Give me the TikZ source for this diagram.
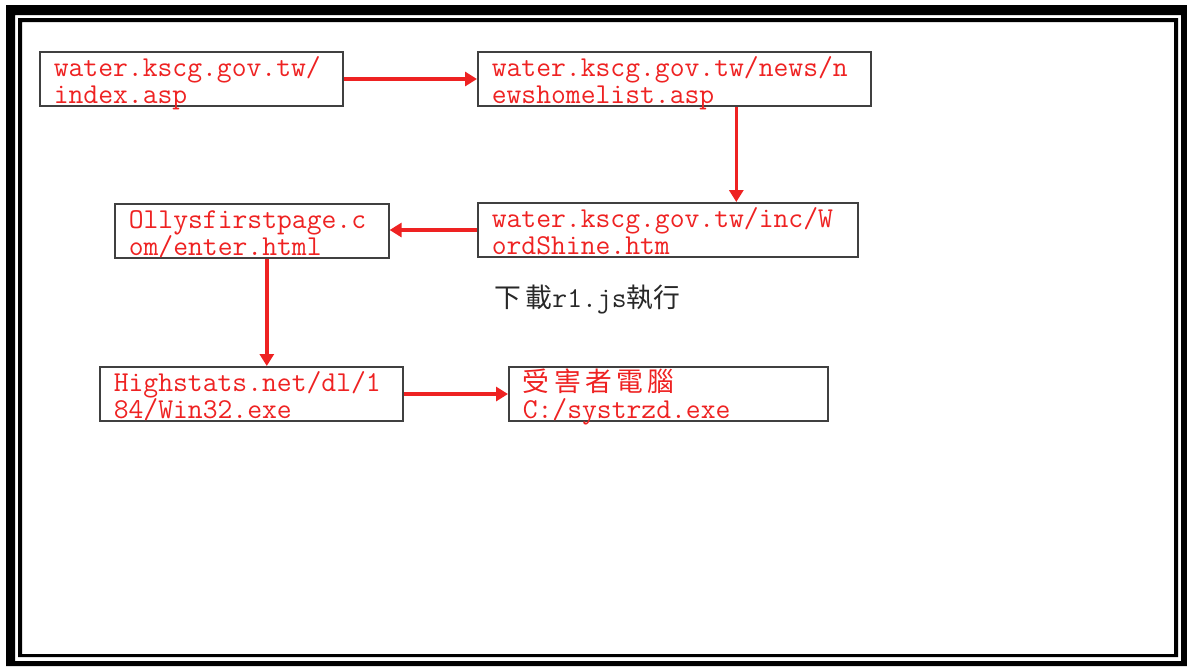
\documentclass[tikz,border=0pt]{standalone}
\usepackage{fontspec}
\usepackage{tikz}
\usetikzlibrary{arrows.meta}
\newfontfamily\cjk[Scale=0.93]{Noto Sans CJK TC}
\definecolor{linkred}{RGB}{238,34,34}
\definecolor{boxgray}{RGB}{64,64,64}
\definecolor{notegray}{RGB}{40,40,40}

\begin{document}
\begin{tikzpicture}[x=0.5pt, y=-0.5pt,
  urlbox/.style={draw=boxgray, line width=0.8pt, text=linkred, anchor=north west,
    text width=#1, align=left, inner xsep=7pt, inner ysep=0pt,
    text height=12.5pt, text depth=14.7pt,
    font=\ttfamily\fontsize{14.4}{13.5}\selectfont},
  flow/.style={draw=linkred, line width=1.7pt, -{Triangle[width=7pt,length=6pt]}}]
\useasboundingbox (0,0) rectangle (1187,666);
\fill[black, even odd rule] (6,5) rectangle (1187,666) (15,15) rectangle (1181,661);
\fill[black, even odd rule] (18,18) rectangle (1178,657) (22,22) rectangle (1174,654);
\node[urlbox=137.5pt] (index) at (39,51) {water.kscg.gov.tw/\\index.asp};
\node[urlbox=182.5pt] (news) at (477,51) {water.kscg.gov.tw/news/n\\ewshomelist.asp};
\node[urlbox=176pt] (shine) at (477,202) {water.kscg.gov.tw/inc/W\\ordShine.htm};
\node[urlbox=123pt] (olly) at (114,203) {Ollysfirstpage.c\\om/enter.html};
\node[urlbox=137.5pt] (win) at (99,366) {Highstats.net/dl/1\\84/Win32.exe};
\node[urlbox=145.5pt] (victim) at (508,366) {{\cjk 受\,害\,者\,電\,腦}\\C:/systrzd.exe};
\node[anchor=west, inner sep=0pt, text=notegray, font=\ttfamily\fontsize{14.4}{13.5}\selectfont] (note) at (494,300) {{\cjk 下\,載}r1.js{\cjk 執行}};
\draw[flow] (index.east) -- (news.west);
\draw[flow] ([xshift=31pt]news.south) -- ([xshift=31pt]news.south |- shine.north);
\draw[flow] (shine.west) -- (shine.west -| olly.east);
\draw[flow] ([xshift=7.5pt]olly.south) -- ([xshift=7.5pt]olly.south |- win.north);
\draw[flow] (win.east) -- (victim.west);
\end{tikzpicture}
\end{document}
